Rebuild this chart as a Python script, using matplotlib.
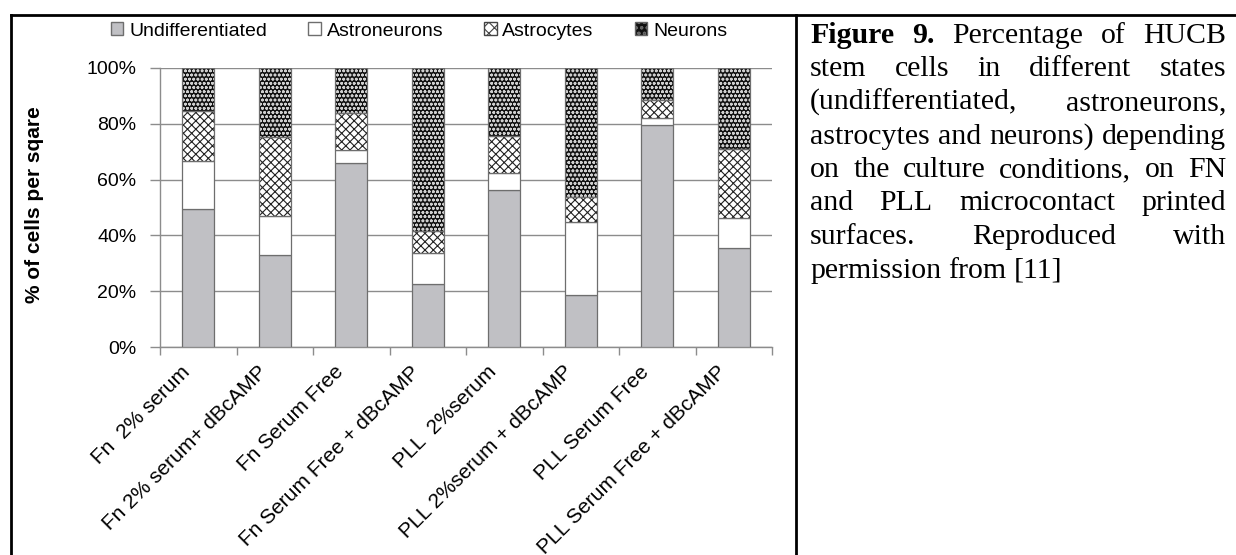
import matplotlib
matplotlib.use("Agg")
import matplotlib.pyplot as plt
from matplotlib.patches import Patch
from matplotlib.lines import Line2D
from matplotlib.transforms import ScaledTranslation
import numpy as np

plt.rcParams.update({
    "font.family": ["Liberation Sans", "DejaVu Sans"],
    "font.size": 14,
    "hatch.linewidth": 0.8,
})

# Daten
categories = ["Fn  2% serum", "Fn 2% serum+ dBcAMP", "Fn Serum Free",
              "Fn Serum Free + dBcAMP", "PLL  2%serum", "PLL 2%serum + dBcAMP",
              "PLL Serum Free", "PLL Serum Free + dBcAMP"]
undiff = [49.3, 33.1, 66.0, 22.5, 56.4, 18.5, 79.6, 35.5]
astroneurons = [17.5, 13.8, 4.7, 11.3, 5.9, 26.4, 2.4, 10.8]
astrocytes = [17.8, 28.2, 13.0, 7.8, 13.4, 9.0, 6.6, 24.6]
neurons = [15.4, 24.9, 16.3, 58.4, 24.3, 46.1, 11.4, 29.1]
series_names = ["Undifferentiated", "Astroneurons", "Astrocytes", "Neurons"]
yticks = [0, 20, 40, 60, 80, 100]

caption_lines = [
    "Figure 9. Percentage of HUCB",
    "stem cells in different states",
    "(undifferentiated, astroneurons,",
    "astrocytes and neurons) depending",
    "on the culture conditions, on FN",
    "and PLL microcontact printed",
    "surfaces. Reproduced with",
    "permission from [11]",
]

W, H = 1236, 555
fig = plt.figure(figsize=(W / 100, H / 100), dpi=100)
ax = fig.add_axes([160 / W, 1 - 347 / H, 612 / W, 279 / H])

x = np.arange(len(categories))
bw = 0.42
edge = "#6e6e6e"

# Stapel
ax.bar(x, undiff, bw, color="#c0c0c4", edgecolor=edge, linewidth=0.9, zorder=3)
bottom = np.array(undiff)
ax.bar(x, astroneurons, bw, bottom=bottom, color="white", edgecolor=edge,
       linewidth=0.9, zorder=3)
bottom = bottom + np.array(astroneurons)
ax.bar(x, astrocytes, bw, bottom=bottom, color="white", edgecolor="#222222",
       hatch="xxxx", linewidth=0, zorder=3)
ax.bar(x, astrocytes, bw, bottom=bottom, color="none", edgecolor=edge,
       linewidth=0.9, zorder=4)
bottom = bottom + np.array(astrocytes)
ax.bar(x, neurons, bw, bottom=bottom, color="#111111", edgecolor="#cfcfcf",
       hatch="oooo", linewidth=0, zorder=3)
ax.bar(x, neurons, bw, bottom=bottom, color="none", edgecolor=edge,
       linewidth=0.9, zorder=4)

ax.set_xlim(-0.5, len(categories) - 0.5)
ax.set_ylim(0, 100)
ax.set_yticks(yticks, labels=[f"{v}%" for v in yticks])
ax.yaxis.grid(True, color="#8c8c8c", linewidth=1.0, zorder=0)
ax.set_axisbelow(True)
ax.tick_params(axis="y", length=7, width=1, color="#8c8c8c", pad=10)

ax.set_xticks(x)
ax.set_xticklabels(categories, rotation=45, ha="right", va="top", fontsize=15)
ax.tick_params(axis="x", length=0, pad=11)
ax.set_xticks(np.arange(-0.5, len(categories)), minor=True)
ax.tick_params(axis="x", which="minor", length=6, width=1, color="#8c8c8c")
for lbl in ax.get_xticklabels():
    lbl.set_transform(lbl.get_transform() + ScaledTranslation(-4 / 100, 0, fig.dpi_scale_trans))

for s in ["top", "right"]:
    ax.spines[s].set_visible(False)
for s in ["left", "bottom"]:
    ax.spines[s].set_color("#8c8c8c")
    ax.spines[s].set_linewidth(1.0)

fig.text(35 / W, 1 - 205 / H, "% of cells per sqare", rotation=90,
         ha="center", va="center", fontsize=15, fontweight="bold")

# Legende
handles = [
    Patch(facecolor="#c0c0c4", edgecolor=edge),
    Patch(facecolor="white", edgecolor=edge),
    Patch(facecolor="white", edgecolor="#444444", hatch="xxx"),
    Patch(facecolor="#111111", edgecolor="#666666", hatch="ooo"),
]
fig.legend(handles, series_names, loc="center", bbox_to_anchor=(419 / W, 1 - 31 / H),
           ncol=4, frameon=False, handlelength=0.65, handleheight=0.65,
           handletextpad=0.3, columnspacing=2.1, fontsize=14)

# Rahmen
fig.add_artist(Line2D([11 / W, 11 / W], [0, 1 - 15 / H], color="black", lw=2))
fig.add_artist(Line2D([796 / W, 796 / W], [0, 1 - 15 / H], color="black", lw=2))
fig.add_artist(Line2D([11 / W, 1], [1 - 15 / H, 1 - 15 / H], color="black", lw=2))

# Bildunterschrift (Blocksatz)
renderer = fig.canvas.get_renderer()
x0, x1 = 810, 1226
for i, line in enumerate(caption_lines):
    yb = 1 - (43 + 33.5 * i) / H
    words = line.split(" ")
    texts = []
    for j, w in enumerate(words):
        t = fig.text(0, yb, w, fontsize=21.5, va="baseline", ha="left",
                     family=["Liberation Serif", "DejaVu Serif"],
                     fontweight="bold" if (i == 0 and j < 2) else "normal",
                     color="black")
        texts.append(t)
    widths = [t.get_window_extent(renderer).width for t in texts]
    if i == len(caption_lines) - 1:
        gap = 7
    else:
        gap = (x1 - x0 - sum(widths)) / (len(words) - 1)
    pos = x0
    for t, w in zip(texts, widths):
        t.set_x(pos / W)
        pos += w + gap

fig.savefig("out.png", dpi=100)
